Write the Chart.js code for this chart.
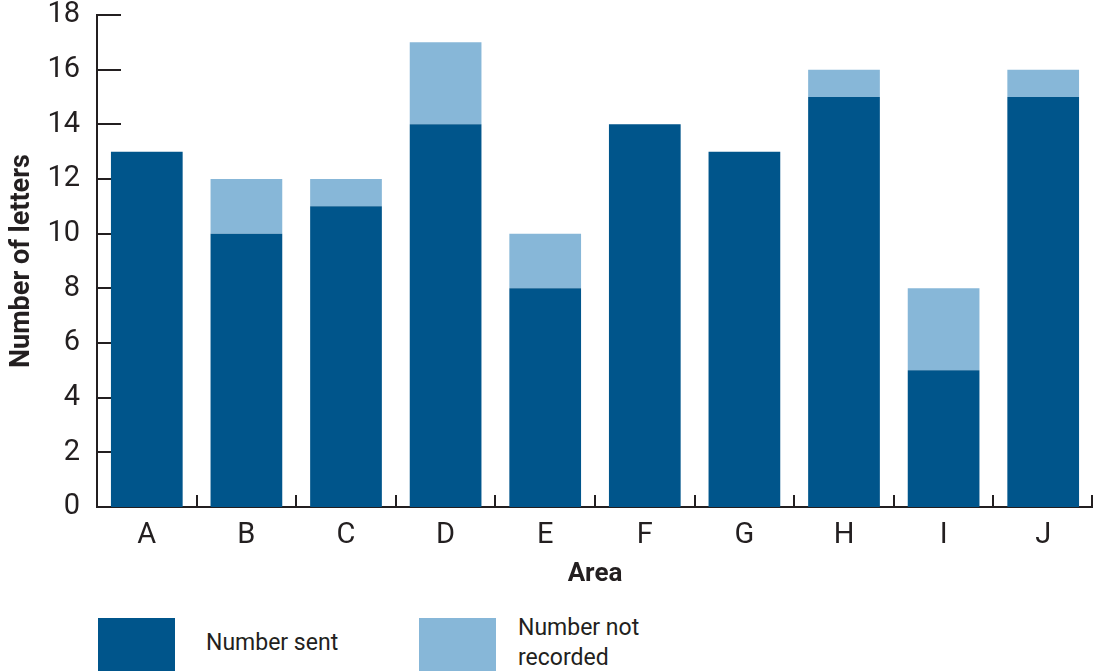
<!DOCTYPE html>
<html>
<head>
<meta charset="utf-8">
<title>Letters by area</title>
<script src="https://cdn.jsdelivr.net/npm/chart.js@4.4.1/dist/chart.umd.min.js"></script>
<style>
    html, body { margin: 0; padding: 0; background: #fff; overflow: hidden; }
    #wrap { position: relative; width: 1093px; height: 671px; font-family: Roboto, 'Noto Sans', sans-serif; color: #231f20; }
    #chartBox { position: absolute; left: 0; top: 0; width: 1093px; height: 600px; }
    .swatch { position: absolute; top: 618px; width: 77px; height: 60px; }
    .legend-text { position: absolute; font-size: 23px; line-height: 30px; }
</style>
</head>
<body>
<div id="wrap">
    <div id="chartBox"><canvas id="lettersChart"></canvas></div>
    <div class="swatch" style="left:98px; background:#00558b;"></div>
    <div class="legend-text" style="left:206px; top:628px;">Number sent</div>
    <div class="swatch" style="left:419px; background:#87b7d8;"></div>
    <div class="legend-text" style="left:518px; top:613px;">Number not<br>recorded</div>
</div>
<script>
// Dati del grafico
const areas = ['A', 'B', 'C', 'D', 'E', 'F', 'G', 'H', 'I', 'J'];
const numberSent = [13, 10, 11, 14, 8, 14, 13, 15, 5, 15];
const numberNotRecorded = [0, 2, 1, 3, 2, 0, 0, 1, 3, 1];
const yTicks = [0, 2, 4, 6, 8, 10, 12, 14, 16, 18];

const AXIS_COLOR = '#231f20';

// Tacche interne: verso destra sull'asse Y, verso l'alto sui confini delle categorie
const innerTicks = {
    id: 'innerTicks',
    beforeDatasetsDraw(chart) {
        const ctx = chart.ctx;
        const x = chart.scales.x;
        const y = chart.scales.y;
        const area = chart.chartArea;
        ctx.save();
        ctx.strokeStyle = AXIS_COLOR;
        ctx.lineWidth = 2;
        ctx.beginPath();
        yTicks.forEach(v => {
            const py = Math.round(y.getPixelForValue(v));
            ctx.moveTo(area.left, py);
            ctx.lineTo(area.left + 24, py);
        });
        for (let i = 0; i < areas.length; i++) {
            const px = i < areas.length - 1
                ? (x.getPixelForValue(i) + x.getPixelForValue(i + 1)) / 2
                : area.right - 1;
            ctx.moveTo(Math.round(px), area.bottom);
            ctx.lineTo(Math.round(px), area.bottom - 12);
        }
        ctx.stroke();
        ctx.restore();
    }
};

new Chart(document.getElementById('lettersChart'), {
    type: 'bar',
    data: {
        labels: areas,
        datasets: [
            { label: 'Number sent', data: numberSent, backgroundColor: '#00558b' },
            { label: 'Number not recorded', data: numberNotRecorded, backgroundColor: '#87b7d8' }
        ]
    },
    options: {
        responsive: true,
        maintainAspectRatio: false,
        animation: false,
        layout: { padding: { top: 15, right: 0, left: 0, bottom: 0 } },
        datasets: { bar: { barPercentage: 0.72, categoryPercentage: 1 } },
        plugins: {
            legend: { display: false },
            tooltip: { enabled: false }
        },
        scales: {
            x: {
                stacked: true,
                afterFit(scale) { scale.height = 93; },
                grid: { display: false, drawTicks: false },
                border: { display: true, color: AXIS_COLOR, width: 2 },
                ticks: { color: AXIS_COLOR, padding: 14, font: { family: 'Roboto', size: 29, lineHeight: 1 } },
                title: {
                    display: true,
                    text: 'Area',
                    color: AXIS_COLOR,
                    font: { family: 'Roboto', size: 26, weight: 'bold', lineHeight: 1.2 },
                    padding: { top: 0, bottom: 10 }
                }
            },
            y: {
                stacked: true,
                min: 0,
                max: 18,
                afterFit(scale) {
                    scale.width = 97;
                    scale.paddingTop = 0;
                    scale.paddingBottom = 0;
                },
                afterBuildTicks(scale) { scale.ticks = yTicks.map(v => ({ value: v })); },
                grid: { display: false, drawTicks: false },
                border: { display: true, color: AXIS_COLOR, width: 2 },
                ticks: { color: AXIS_COLOR, padding: 17, font: { family: 'Roboto', size: 29, lineHeight: 1 } },
                title: {
                    display: true,
                    text: 'Number of letters',
                    color: AXIS_COLOR,
                    font: { family: 'Roboto', size: 27, weight: 'bold', lineHeight: 1.2 },
                    padding: { top: 6, bottom: 0 }
                }
            }
        }
    },
    plugins: [innerTicks]
});
</script>
</body>
</html>
